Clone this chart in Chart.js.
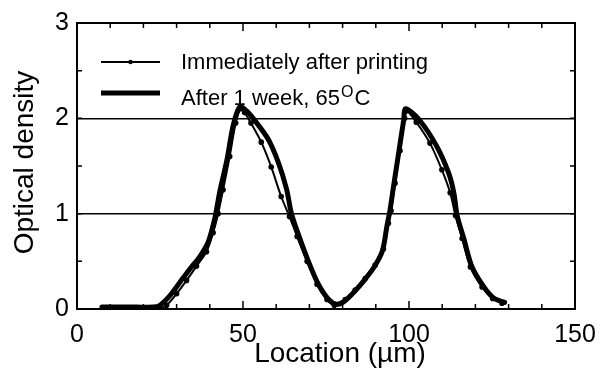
<!DOCTYPE html>
<html>
<head>
<meta charset="utf-8">
<script src="https://cdn.jsdelivr.net/npm/chart.js@4"></script>
<style>
  html, body { margin: 0; padding: 0; background: #fff; }
  #wrap { width: 605px; height: 372px; }
</style>
</head>
<body>
<div id="wrap"><canvas id="densityChart" width="605" height="372"></canvas></div>
<script>
// Immediately after printing (thin line with dots)
const freshX = [8, 14, 20, 25, 27, 30, 33, 36, 39, 41, 42.5, 44, 46, 47.8, 49.3,
    50.5, 52.4, 55.5, 58.5, 61.5, 64, 66.3, 69.3, 72.3, 75.3, 77.5,
    80.8, 83.8, 86.8, 89.8, 92.3, 93.8, 94.6, 95.8, 97.3, 98.7, 99.3,
    102.2, 106.3, 109.9, 112.4, 114, 116, 118.5, 122, 125.2, 128];
const freshY = [0.01, 0.01, 0.01, 0.01, 0.04, 0.16, 0.3, 0.45, 0.6, 0.8, 1.0, 1.25, 1.6, 1.95, 2.1,
    2.06, 1.95, 1.75, 1.49, 1.18, 0.97, 0.76, 0.5, 0.26, 0.1, 0.04,
    0.1, 0.2, 0.32, 0.46, 0.63, 0.9, 1.03, 1.32, 1.66, 2.0, 2.08,
    1.96, 1.74, 1.46, 1.22, 0.98, 0.74, 0.44, 0.23, 0.11, 0.06];

// After 1 week at 65 C (thick line)
const agedX = [7.5, 12, 18, 23, 25, 28, 31, 34, 37, 39.5, 41.5, 43, 45.2, 47, 49,
    51, 53.5, 57.6, 60.6, 63.1, 64.6, 66.7, 69.7, 72.7, 75.8, 78.2,
    80.5, 83.5, 86.5, 89.5, 92, 93.4, 94.2, 95.4, 96.9, 98.4, 99,
    103.2, 108.3, 111.9, 113.5, 114.5, 116.5, 119, 122.6, 125.7, 128.8];
const agedY = [0.02, 0.02, 0.02, 0.02, 0.04, 0.14, 0.28, 0.42, 0.55, 0.7, 0.95, 1.23, 1.57, 1.92, 2.12,
    2.08, 1.98, 1.78, 1.54, 1.26, 1.0, 0.78, 0.5, 0.26, 0.1, 0.05,
    0.08, 0.18, 0.3, 0.44, 0.61, 0.88, 1.02, 1.3, 1.64, 1.98, 2.1,
    1.98, 1.71, 1.43, 1.22, 0.98, 0.74, 0.44, 0.23, 0.11, 0.07];

const seriesLabels = ['Immediately after printing', 'After 1 week, 65°C'];
const xTickLabels = [0, 50, 100, 150];
const yTickLabels = [0, 1, 2, 3];
const yGridValues = [1, 2];

const FONT = "'Liberation Sans', Arial, Helvetica, sans-serif";

function toPoints(xs, ys) {
    return xs.map((x, i) => ({ x: x, y: ys[i] }));
}

// box round the plot, with tick marks pointing inwards on all four sides
const framePlugin = {
    id: 'frame',
    afterDraw(chart) {
        const { ctx, chartArea: a, scales: { x, y } } = chart;
        ctx.save();
        ctx.strokeStyle = '#000';
        ctx.lineWidth = 2;
        ctx.strokeRect(a.left, a.top, a.right - a.left, a.bottom - a.top);
        ctx.lineWidth = 1.5;
        ctx.beginPath();
        x.ticks.forEach(t => {
            const px = x.getPixelForValue(t.value);
            const len = t.value % 50 === 0 ? 8 : 5;
            ctx.moveTo(px, a.bottom);
            ctx.lineTo(px, a.bottom - len);
            ctx.moveTo(px, a.top);
            ctx.lineTo(px, a.top + len);
        });
        y.ticks.forEach(t => {
            const py = y.getPixelForValue(t.value);
            ctx.moveTo(a.left, py);
            ctx.lineTo(a.left + 5, py);
            ctx.moveTo(a.right, py);
            ctx.lineTo(a.right - 5, py);
        });
        ctx.stroke();
        ctx.restore();
    }
};

// legend inside the plot, top left
const insideLegend = {
    id: 'insideLegend',
    afterDraw(chart) {
        const { ctx, chartArea: a } = chart;
        const x0 = a.left + 24, x1 = a.left + 83, tx = a.left + 104;
        const rows = [a.top + 39, a.top + 70];
        ctx.save();
        ctx.strokeStyle = '#000';
        ctx.fillStyle = '#000';
        ctx.lineCap = 'butt';

        // thin line with a dot
        ctx.lineWidth = 2;
        ctx.beginPath();
        ctx.moveTo(x0, rows[0]);
        ctx.lineTo(x1, rows[0]);
        ctx.stroke();
        ctx.beginPath();
        ctx.arc((x0 + x1) / 2, rows[0], 2.2, 0, Math.PI * 2);
        ctx.fill();

        // thick line
        ctx.lineWidth = 5;
        ctx.beginPath();
        ctx.moveTo(x0, rows[1]);
        ctx.lineTo(x1, rows[1]);
        ctx.stroke();

        ctx.font = '22px ' + FONT;
        ctx.textBaseline = 'alphabetic';
        ctx.fillText(seriesLabels[0], tx, rows[0] + 7);

        // second label with a raised "O" for degrees
        const base = seriesLabels[1].replace('°C', '');
        ctx.fillText(base, tx, rows[1] + 12);
        let cx = tx + ctx.measureText(base).width + 1;
        ctx.font = '16px ' + FONT;
        ctx.fillText('O', cx, rows[1] + 4);
        cx += ctx.measureText('O').width + 1;
        ctx.font = '22px ' + FONT;
        ctx.fillText('C', cx, rows[1] + 12);
        ctx.restore();
    }
};

new Chart(document.getElementById('densityChart').getContext('2d'), {
    type: 'scatter',
    data: {
        datasets: [{
            label: seriesLabels[0],
            data: toPoints(freshX, freshY),
            showLine: true,
            borderColor: '#000',
            backgroundColor: '#000',
            borderWidth: 2,
            pointRadius: 1.8,
            pointHoverRadius: 1.8,
            tension: 0.3
        }, {
            label: seriesLabels[1],
            data: toPoints(agedX, agedY),
            showLine: true,
            borderColor: '#000',
            backgroundColor: '#000',
            borderWidth: 5,
            borderCapStyle: 'round',
            borderJoinStyle: 'round',
            pointRadius: 0,
            tension: 0.3
        }]
    },
    options: {
        responsive: false,
        animation: false,
        layout: {
            padding: { top: 18, right: 30, left: 0, bottom: 0 }
        },
        plugins: {
            legend: { display: false },
            tooltip: { enabled: false }
        },
        scales: {
            x: {
                type: 'linear',
                min: 0,
                max: 150,
                afterFit: s => { s.height = 63; },
                ticks: {
                    stepSize: 10,
                    autoSkip: false,
                    maxRotation: 0,
                    padding: 3,
                    color: '#000',
                    font: { family: FONT, size: 25 },
                    callback: v => xTickLabels.includes(v) ? v : ''
                },
                grid: { display: false },
                border: { display: false },
                title: {
                    display: true,
                    // leading em space nudges the centred title to the right, as in the original
                    text: '\u2003Location (µm)',
                    color: '#000',
                    font: { family: FONT, size: 28 },
                    padding: { top: 0, bottom: 1 }
                }
            },
            y: {
                min: 0,
                max: 3,
                afterFit: s => { s.width = 77; },
                ticks: {
                    stepSize: 0.5,
                    autoSkip: false,
                    padding: 8,
                    color: '#000',
                    font: { family: FONT, size: 25 },
                    callback: v => yTickLabels.includes(v) ? v : ''
                },
                grid: {
                    drawTicks: false,
                    lineWidth: 1.5,
                    color: c => (c.tick && yGridValues.includes(c.tick.value)) ? '#000' : 'rgba(0,0,0,0)'
                },
                border: { display: false },
                title: {
                    display: true,
                    text: '\u2005Optical density',
                    color: '#000',
                    font: { family: FONT, size: 28 },
                    padding: { top: 8, bottom: 0 }
                }
            }
        }
    },
    plugins: [framePlugin, insideLegend]
});
</script>
</body>
</html>
